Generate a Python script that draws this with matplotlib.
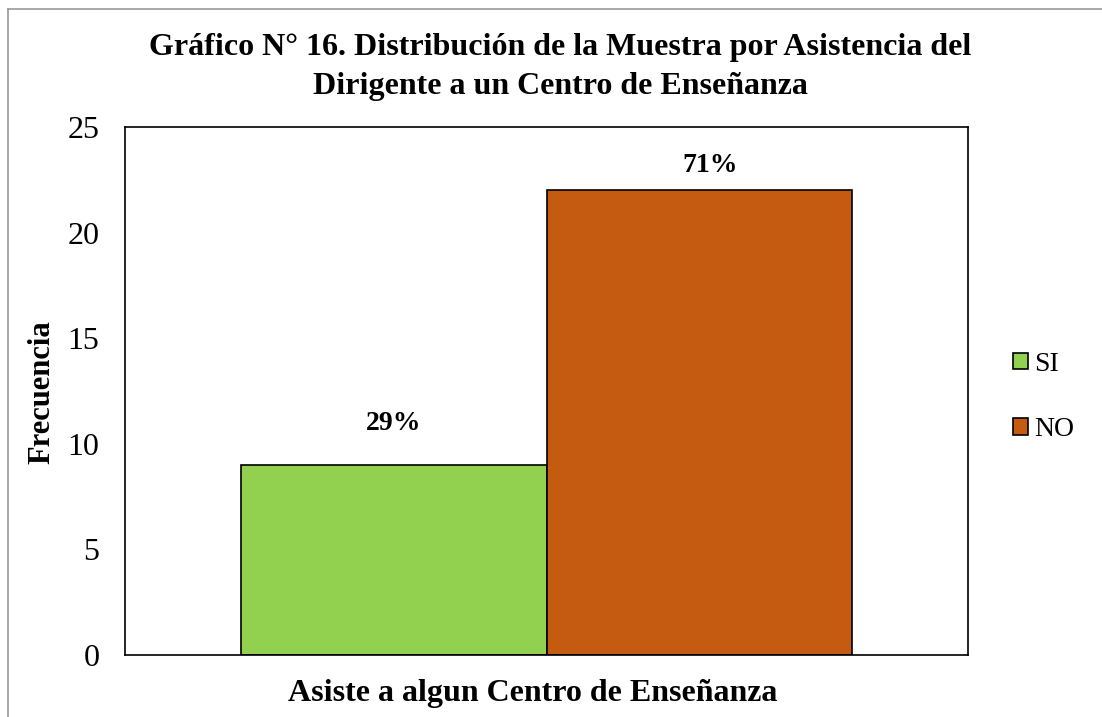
import matplotlib.pyplot as plt
from matplotlib.lines import Line2D
from matplotlib.patches import Patch

plt.rcParams["font.family"] = ["Liberation Serif", "DejaVu Serif"]

TITLE = "Gráfico N° 16. Distribución de la Muestra por Asistencia del\nDirigente a un Centro de Enseñanza"
X_TITLE = "Asiste a algun Centro de Enseñanza"
Y_TITLE = "Frecuencia"
CATEGORIES = ["SI", "NO"]
VALUES = [9, 22]
LABELS = ["29%", "71%"]
COLORS = ["#92D050", "#C55A11"]
Y_TICKS = [0, 5, 10, 15, 20, 25]

W, H = 1102, 717
fig = plt.figure(figsize=(W / 100, H / 100), dpi=100)
ax = fig.add_axes([125 / W, 1 - 655 / H, (968 - 125) / W, (655 - 127) / H])

width = 0.3625
offsets = [-width / 2, width / 2]
# label nudges in points, as placed in the original chart
label_nudges = [(0, 30), (8, 18)]
for off, val, lab, col, cat, nudge in zip(offsets, VALUES, LABELS, COLORS, CATEGORIES, label_nudges):
    ax.bar(off, val, width=width, color=col, edgecolor="black", linewidth=1.2, label=cat)
    ax.annotate(lab, (off, val), xytext=nudge, textcoords="offset points",
                ha="center", va="center", fontsize=20, fontweight="bold")

ax.set_xlim(-0.5, 0.5)
ax.set_ylim(0, 25)
ax.set_yticks(Y_TICKS)
ax.set_yticklabels([str(t) for t in Y_TICKS], fontsize=23)
ax.set_xticks([])
ax.tick_params(axis="y", length=0, pad=18.5)
for s in ax.spines.values():
    s.set_linewidth(1.2)
    s.set_color("black")

fig.text(42 / W, 1 - 392 / H, Y_TITLE, rotation=90, ha="center", va="center",
         fontsize=22, fontweight="bold")
fig.text(533 / W, 1 - 693 / H, X_TITLE, ha="center", va="center",
         fontsize=23, fontweight="bold")
fig.text(560 / W, 1 - 67 / H, TITLE, ha="center", va="center", fontsize=23,
         fontweight="bold", linespacing=1.42)

handles = [Patch(facecolor=c, edgecolor="black", linewidth=1.2) for c in COLORS]
fig.legend(handles, CATEGORIES, loc="center left", bbox_to_anchor=(988 / W, 1 - 397 / H),
           frameon=False, fontsize=20, handlelength=0.55, handleheight=0.55,
           handletextpad=0.2, labelspacing=1.45)

# outer chart border (top and left visible)
fig.add_artist(Line2D([8 / W, 1], [1 - 9 / H, 1 - 9 / H], color="#999999", lw=1.2,
                      transform=fig.transFigure))
fig.add_artist(Line2D([8 / W, 8 / W], [0, 1 - 9 / H], color="#999999", lw=1.2,
                      transform=fig.transFigure))

fig.savefig("out.png", dpi=100, facecolor="white")
